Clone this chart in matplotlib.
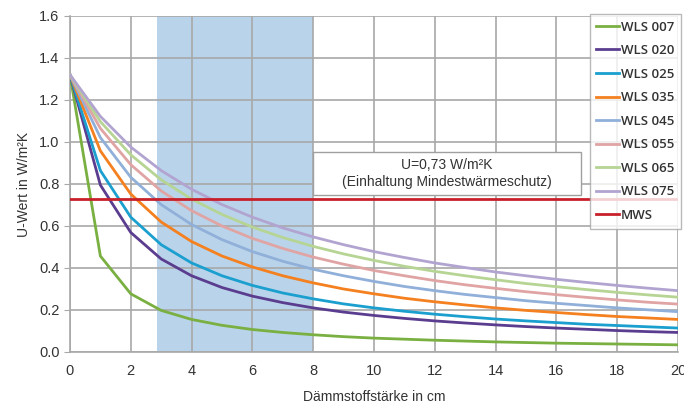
import matplotlib.pyplot as plt
from matplotlib.patches import Rectangle

plt.rcParams['font.family'] = ['Liberation Sans', 'DejaVu Sans']

# Dämmstoffstärke in cm
d = list(range(0, 21))

wls007 = [1.32, 0.457, 0.277, 0.198, 0.155, 0.127, 0.107, 0.093, 0.082, 0.073, 0.066,
          0.061, 0.056, 0.052, 0.048, 0.045, 0.042, 0.040, 0.038, 0.036, 0.034]
wls020 = [1.32, 0.795, 0.569, 0.443, 0.363, 0.307, 0.266, 0.235, 0.210, 0.190, 0.174,
          0.160, 0.148, 0.138, 0.129, 0.121, 0.114, 0.108, 0.102, 0.097, 0.093]
wls025 = [1.32, 0.864, 0.642, 0.511, 0.424, 0.363, 0.317, 0.281, 0.253, 0.229, 0.210,
          0.194, 0.180, 0.168, 0.157, 0.148, 0.140, 0.132, 0.126, 0.120, 0.114]
wls035 = [1.32, 0.958, 0.752, 0.619, 0.526, 0.457, 0.405, 0.363, 0.329, 0.300, 0.277,
          0.256, 0.239, 0.224, 0.210, 0.198, 0.188, 0.178, 0.169, 0.162, 0.155]
wls045 = [1.32, 1.021, 0.832, 0.702, 0.607, 0.535, 0.478, 0.432, 0.394, 0.363, 0.336,
          0.312, 0.292, 0.274, 0.259, 0.244, 0.232, 0.221, 0.210, 0.201, 0.192]
wls055 = [1.32, 1.065, 0.892, 0.767, 0.673, 0.600, 0.541, 0.493, 0.452, 0.418, 0.388,
          0.363, 0.340, 0.320, 0.303, 0.287, 0.273, 0.260, 0.248, 0.237, 0.228]
wls065 = [1.32, 1.097, 0.939, 0.820, 0.728, 0.655, 0.595, 0.545, 0.503, 0.467, 0.436,
          0.408, 0.384, 0.363, 0.344, 0.326, 0.311, 0.297, 0.284, 0.272, 0.261]
wls075 = [1.32, 1.122, 0.976, 0.864, 0.775, 0.702, 0.642, 0.591, 0.548, 0.511, 0.478,
          0.450, 0.424, 0.402, 0.381, 0.363, 0.346, 0.331, 0.317, 0.304, 0.292]
mws = 0.73

labels = ['WLS 007', 'WLS 020', 'WLS 025', 'WLS 035', 'WLS 045', 'WLS 055', 'WLS 065', 'WLS 075']
series = [wls007, wls020, wls025, wls035, wls045, wls055, wls065, wls075]
colors = ['#79b041', '#5b3d8f', '#1a9fcf', '#f4801f', '#90afd9', '#dfa4a3', '#b6d493', '#b2a4d0']

fig = plt.figure(figsize=(6.84, 4.09), dpi=100)
ax = fig.add_axes([0.1023, 0.1394, 0.8889, 0.8215])

# Bereich 3-8 cm hinterlegt
ax.axvspan(2.85, 8, color='#b9d4ea', zorder=0.3, lw=0)

for y, lab, c in zip(series, labels, colors):
    ax.plot(d, y, color=c, lw=2, label=lab, zorder=3)
ax.axhline(mws, color='#c8202a', lw=2, label='MWS', zorder=3)

# Kasten mit Hinweis
ax.add_patch(Rectangle((8, 0.748), 8.8, 0.205, facecolor='white', edgecolor='#a0a0a0',
                       lw=1, zorder=2))
ax.text(12.4, 0.85, 'U=0,73 W/m²K\n(Einhaltung Mindestwärmeschutz)', ha='center', va='center',
        fontsize=10, color='#333333', linespacing=1.3, zorder=4)

ax.set_xlim(0, 20)
ax.set_ylim(0, 1.6)
ax.set_xticks(range(0, 21, 2))
ax.set_yticks([0, 0.2, 0.4, 0.6, 0.8, 1.0, 1.2, 1.4, 1.6])
ax.set_yticklabels(['0.0', '0.2', '0.4', '0.6', '0.8', '1.0', '1.2', '1.4', '1.6'])
ax.grid(True, color='#a8a8a8', lw=1.2)
ax.set_axisbelow(True)
for s in ['top', 'right']:
    ax.spines[s].set_visible(False)
for s in ['left', 'bottom']:
    ax.spines[s].set_color('#a8a8a8')
    ax.spines[s].set_linewidth(1.2)
ax.tick_params(axis='both', colors='#a8a8a8', labelcolor='#333333', labelsize=10.5, length=4)
ax.tick_params(axis='x', length=0, pad=9)

ax.set_xlabel('Dämmstoffstärke in cm', fontsize=10, color='#333333', labelpad=8)
ax.set_ylabel('U-Wert in W/m²K', fontsize=10, color='#333333', labelpad=6)

leg = fig.legend(loc='upper right', bbox_to_anchor=(0.995, 0.966),
                 prop={'family': 'Open Sans', 'size': 9.5, 'weight': 'semibold'},
                 frameon=True, fancybox=False, handlelength=1.7, handletextpad=0.15,
                 labelspacing=0.8, borderpad=0.5, borderaxespad=0)
leg.get_frame().set_edgecolor('#a8a8a8')
leg.get_frame().set_linewidth(1)
for t in leg.get_texts():
    t.set_color('#333333')

fig.savefig('out.png', dpi=100)
